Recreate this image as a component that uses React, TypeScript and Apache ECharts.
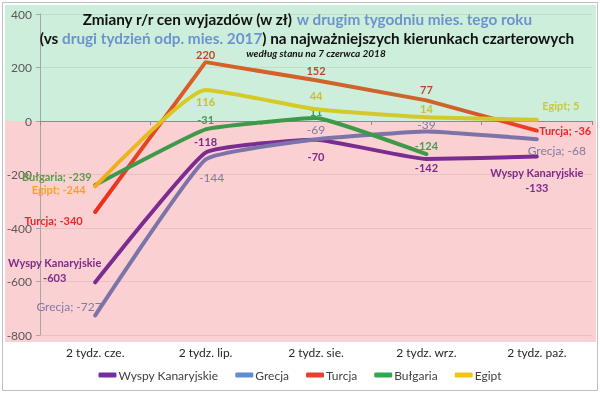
import React, { useEffect, useRef } from 'react';
import * as echarts from 'echarts';

const categories = ['2 tydz. cze.', '2 tydz. lip.', '2 tydz. sie.', '2 tydz. wrz.', '2 tydz. paź.'];
const seriesNames = ['Wyspy Kanaryjskie', 'Grecja', 'Turcja', 'Bułgaria', 'Egipt'];
const wyspyValues = [-603, -118, -70, -142, -133];
const grecjaValues = [-727, -144, -69, -39, -68];
const turcjaValues = [-340, 220, 152, 77, -36];
const bulgariaValues = [-239, -31, 11, -124];
const egiptValues = [-244, 116, 44, 14, 5];
const Y_MIN = -800;
const Y_MAX = 400;
const Y_STEP = 200;

const W = 600;
const H = 394;
const GRID = { left: 40, right: 8, top: 14, bottom: 59 };
const FONT = 'Lato, "Open Sans", sans-serif';

const lineColors = ['#7B2C90', '#7C74A8', '#D0602A', '#3E9A4A', '#D4C820'];
const legendColors = ['#7030A0', '#5B8ED6', '#E8402A', '#2FA84F', '#F0C419'];
const smoothing = [0.12, 0.12, 0, 0.1, 0.15];

type L = Record<string, any>;
const lab = (color: string, position: any, distance: number, extra: L = {}): L => ({
  show: true, position, distance, color, fontFamily: FONT, fontSize: 11, fontWeight: 'bold', ...extra,
});

const wyspyLabels: L[] = [
  lab('#7B2C8A', 'left', 40, { formatter: '{a}\n{c}', align: 'center', offset: [0, -12], lineHeight: 15 }),
  lab('#7B2C8A', 'top', 5),
  lab('#7B2C8A', 'bottom', 11),
  lab('#7B2C8A', 'bottom', 3),
  lab('#7B2C8A', 'bottom', 8, { formatter: '{a}\n{c}', lineHeight: 15 }),
];
const grecjaLabels: L[] = [
  lab('#7F7AA6', 'left', -7, { formatter: '{a}; {c}', offset: [0, -9], fontWeight: 'normal', fontSize: 12 }),
  lab('#7F7AA6', 'bottom', 11, { offset: [6, 0], fontWeight: 'normal', fontSize: 12 }),
  lab('#7F7AA6', 'top', 3, { fontWeight: 'normal', fontSize: 12 }),
  lab('#7F7AA6', 'top', 0, { fontWeight: 'normal', fontSize: 12 }),
  lab('#7F7AA6', 'bottom', 5, { formatter: '{a}; {c}', offset: [20, 0], fontWeight: 'normal', fontSize: 12 }),
];
const turcjaLabels: L[] = [
  lab('#E8282A', 'left', 12, { formatter: '{a}; {c}', offset: [0, 9] }),
  lab('#B84A2A', 'top', 2),
  lab('#B84A2A', 'top', 4),
  lab('#B84A2A', 'top', 5),
  lab('#E8282A', 'right', 2, { formatter: '{a}; {c}' }),
];
const bulgariaLabels: L[] = [
  lab('#5A9A4A', 'left', 3, { formatter: '{a}; {c}', offset: [0, -8] }),
  lab('#4A9A50', 'top', 4),
  lab('#2FA060', 'top', 1),
  lab('#4A9A50', 'top', 3),
];
const egiptLabels: L[] = [
  lab('#F5A030', 'left', 9, { formatter: '{a}; {c}', offset: [0, 3] }),
  lab('#C8C030', 'bottom', 6),
  lab('#C8C030', 'top', 8),
  lab('#C8C030', 'top', 3),
  lab('#C8C840', 'right', 5, { formatter: '{a}; {c}', offset: [0, -14] }),
];

export default function App() {
  const ref = useRef<HTMLDivElement>(null);
  useEffect(() => {
    const chart = echarts.init(ref.current!, null, { renderer: 'svg', width: W, height: H });
    const plotH = H - GRID.top - GRID.bottom;
    const zeroY = GRID.top + plotH * (Y_MAX / (Y_MAX - Y_MIN));
    const plotBottom = H - GRID.bottom;

    const mk = (idx: number, values: number[], labels: L[], color: any) => ({
      name: seriesNames[idx],
      type: 'line',
      smooth: smoothing[idx] || false,
      symbol: 'circle',
      symbolSize: 1,
      showSymbol: true,
      lineStyle: { width: 4, color, cap: 'round', join: 'round' },
      itemStyle: { color: lineColors[idx] },
      emphasis: { disabled: true },
      data: values.map((v, i) => ({ value: v, label: labels[i] })),
      z: 3 + idx,
    });

    const turcjaGrad = new echarts.graphic.LinearGradient(0, 0, 1, 0, [
      { offset: 0, color: '#F02A1E' },
      { offset: 0.22, color: '#D8602A' },
      { offset: 0.8, color: '#CC642C' },
      { offset: 1, color: '#F0381E' },
    ]);
    const egiptGrad = new echarts.graphic.LinearGradient(0, 0, 1, 0, [
      { offset: 0, color: '#F7A81B' },
      { offset: 0.2, color: '#D8CA22' },
      { offset: 1, color: '#D0C830' },
    ]);

    const option: any = {
      animation: false,
      textStyle: { fontFamily: FONT },
      title: [
        {
          text: '{b|Zmiany r/r cen wyjazdów (w zł) }{c|w drugim tygodniu mies. tego roku}\n{b|(vs }{c|drugi tydzień odp. mies. 2017}{b|) na najważniejszych kierunkach czarterowych}',
          left: 302,
          top: 4,
          textAlign: 'center',
          textStyle: {
            rich: {
              b: { fontFamily: FONT, fontSize: 15.3, fontWeight: 'bold', color: '#111', lineHeight: 19 },
              c: { fontFamily: FONT, fontSize: 15.3, fontWeight: 'bold', color: '#6C93CF', lineHeight: 19 },
            },
          },
        },
        {
          text: 'według stanu na 7 czerwca 2018',
          left: 311,
          top: 43,
          textAlign: 'center',
          textStyle: { fontFamily: FONT, fontSize: 10, fontWeight: 'bold', fontStyle: 'italic', color: '#111' },
        },
      ],
      graphic: [
        { type: 'rect', z: -10, silent: true, shape: { x: 5, y: 5, width: 591, height: zeroY - 5 }, style: { fill: '#CDEEDB' } },
        { type: 'rect', z: -10, silent: true, shape: { x: 5, y: zeroY, width: 591, height: plotBottom + 7 - zeroY }, style: { fill: '#FBD0D2' } },
        { type: 'rect', z: -11, silent: true, shape: { x: 2.5, y: 2.5, width: 595, height: 388 }, style: { fill: '#fff', stroke: '#BFBFBF', lineWidth: 1 } },
      ],
      legend: {
        bottom: 8,
        left: 'center',
        icon: 'roundRect',
        itemWidth: 18,
        itemHeight: 5,
        itemGap: 17,
        textStyle: { fontFamily: FONT, fontSize: 12, color: '#404040', padding: [0, 0, 0, -3] },
        data: seriesNames.map((n, i) => ({ name: n, itemStyle: { color: legendColors[i], opacity: 1 } })),
      },
      grid: { ...GRID, containLabel: false },
      xAxis: [
        {
          type: 'category',
          data: categories,
          position: 'bottom',
          axisLine: { show: false, onZero: false },
          axisTick: { show: false },
          axisLabel: { margin: 11, fontFamily: FONT, fontSize: 12, color: '#262626' },
        },
        {
          type: 'category',
          data: categories,
          position: 'bottom',
          axisLine: { show: true, onZero: true, lineStyle: { color: '#8C8C8C', width: 1 } },
          axisTick: { show: true, length: 4, lineStyle: { color: '#8C8C8C' } },
          axisLabel: { show: false },
        },
      ],
      yAxis: {
        type: 'value',
        min: Y_MIN,
        max: Y_MAX,
        interval: Y_STEP,
        axisLine: { show: true, lineStyle: { color: '#A6A6A6' } },
        axisTick: { show: true, length: 4, lineStyle: { color: '#A6A6A6' } },
        axisLabel: { margin: 8, fontFamily: FONT, fontSize: 12, color: '#595959' },
        splitLine: { show: true, lineStyle: { color: 'rgba(0,0,0,0.07)' } },
      },
      series: [
        mk(0, wyspyValues, wyspyLabels, lineColors[0]),
        mk(1, grecjaValues, grecjaLabels, lineColors[1]),
        mk(2, turcjaValues, turcjaLabels, turcjaGrad),
        mk(3, bulgariaValues, bulgariaLabels, lineColors[3]),
        mk(4, egiptValues, egiptLabels, egiptGrad),
      ],
    };
    chart.setOption(option);
    return () => chart.dispose();
  }, []);
  return <div ref={ref} style={{ position: 'fixed', left: 0, top: 0, width: W, height: H }} />;
}
